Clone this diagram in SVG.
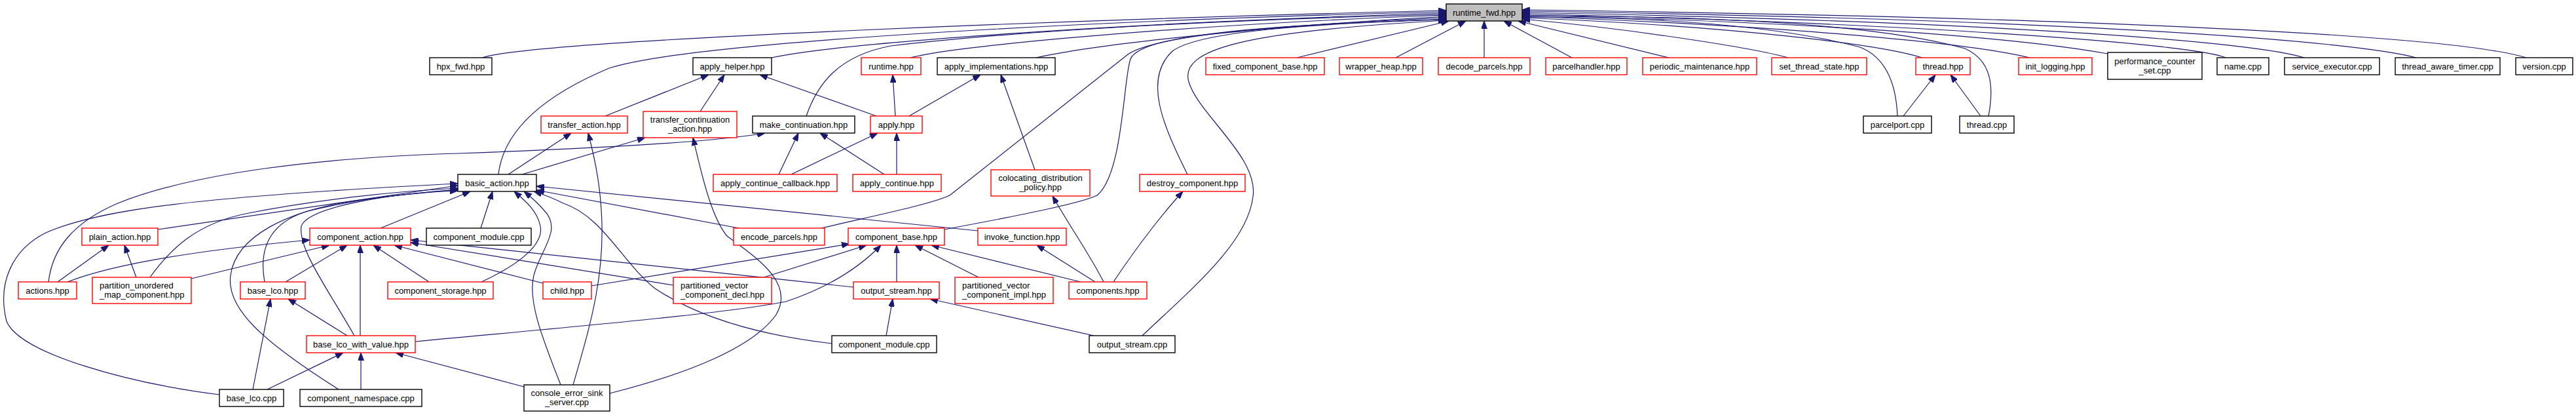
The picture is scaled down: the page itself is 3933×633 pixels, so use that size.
<svg xmlns="http://www.w3.org/2000/svg" width="3933" height="633" viewBox="0 0 3933 633">
<defs>
<marker id="ah" markerWidth="12" markerHeight="9" refX="12" refY="4.5" orient="auto" markerUnits="userSpaceOnUse" viewBox="0 0 12 9"><path d="M0,0 L12,4.5 L0,9 Z" fill="#191970" stroke="#191970" stroke-width="1"/></marker>
</defs>
<style>
.n rect{fill:#fff;stroke-width:1.4}
.r rect{stroke:#ff0000}
.k rect{stroke:#000}
.g rect{fill:#bfbfbf;stroke:#000}
text{font-family:"Liberation Sans",Arial,sans-serif;font-size:13px;fill:#000;text-anchor:middle}
text.l{text-anchor:start}
.e path{fill:none;stroke:#191970;stroke-width:1.2;marker-end:url(#ah)}
</style>
<rect x="0" y="0" width="3933" height="633" fill="#fff"/>
<g id="edges" class="e">
<path d="M736,88 C820,60 1700,28 2208,16"/>
<path d="M761,266 C768,205 820,150 930,104 C1060,62 1700,30 2208,18"/>
<path d="M1178,88 C1280,66 1700,35 2208,20"/>
<path d="M1231,177 C1248,128 1280,85 1360,70 C1600,42 1950,28 2208,22"/>
<path d="M1390,88 C1460,70 1800,38 2208,23"/>
<path d="M1582,88 C1700,62 2000,36 2208,25"/>
<path d="M1254,348 C1330,330 1420,312 1450,298 L1722,83 C1770,50 2000,36 2208,27"/>
<path d="M1442,350 C1560,328 1650,310 1675,298 C1715,265 1715,120 1726,90 C1740,55 1900,40 2208,29"/>
<path d="M1813,266 C1775,190 1745,120 1790,78 C1830,48 2000,36 2208,30"/>
<path d="M1744,512 C1820,440 1905,370 1913,300 C1922,240 1830,175 1815,125 C1800,75 1900,48 2208,31"/>
<path d="M1980,88 L2212,32"/>
<path d="M2131,88 L2238,32"/>
<path d="M2266,88 L2266,32"/>
<path d="M2400,88 L2296,32"/>
<path d="M2548,88 L2318,32"/>
<path d="M2730,88 C2680,74 2500,45 2324,29"/>
<path d="M2935,88 C2870,68 2650,40 2324,27"/>
<path d="M3099,88 C3000,64 2700,38 2324,25"/>
<path d="M3218,82 C3050,52 2700,32 2324,23"/>
<path d="M3398,88 C3360,70 3000,38 2324,21"/>
<path d="M3518,88 C3450,66 3100,34 2324,19"/>
<path d="M3689,88 C3600,64 3200,30 2324,17"/>
<path d="M3857,88 C3760,58 3300,28 2324,15"/>
<path d="M2897,177 C2895,130 2880,88 2840,72 C2700,35 2500,26 2324,26"/>
<path d="M3036,177 C3045,130 3040,92 3000,74 C2850,32 2550,24 2324,24"/>
<path d="M2906,177 L2955,114"/>
<path d="M3024,177 L2978,114"/>
<path d="M924,177 L1082,114"/>
<path d="M1069,170 L1106,114"/>
<path d="M1338,177 L1160,114"/>
<path d="M1367,177 L1363,114"/>
<path d="M1388,177 L1497,114"/>
<path d="M1580,259 L1528,114"/>
<path d="M776,266 L872,203"/>
<path d="M797,266 L985,210"/>
<path d="M875,587 C900,500 925,420 918,320 C915,270 905,230 898,203"/>
<path d="M931,600 C1050,570 1150,530 1185,480 C1215,430 1150,390 1110,360 C1085,330 1070,260 1058,210"/>
<path d="M74,430 C80,380 110,340 180,310 C300,262 500,240 700,234 C950,225 1100,215 1168,203"/>
<path d="M1189,266 L1219,203"/>
<path d="M1350,266 L1252,203"/>
<path d="M1208,266 L1340,203"/>
<path d="M1369,266 L1369,203"/>
<path d="M1685,430 C1665,390 1630,340 1607,299"/>
<path d="M1700,430 C1740,370 1780,320 1806,292"/>
<path d="M1672,430 L1583,374"/>
<path d="M1650,430 L1422,374"/>
<path d="M1494,423 L1397,374"/>
<path d="M1369,430 L1369,374"/>
<path d="M634,521 C800,505 1100,480 1200,460 C1260,440 1310,410 1345,374"/>
<path d="M1166,423 L1323,374"/>
<path d="M903,436 L1297,372"/>
<path d="M1493,352 L819,284"/>
<path d="M1128,348 L819,290"/>
<path d="M734,348 L752,292"/>
<path d="M735,430 C800,400 830,370 825,345 C820,320 800,305 785,292"/>
<path d="M856,587 C830,520 805,460 815,420 C825,380 860,350 830,320 C820,308 810,300 800,292"/>
<path d="M1270,524 C1150,510 1060,480 1000,440 C950,400 920,330 860,310 C840,300 828,296 815,292"/>
<path d="M241,350 L699,283"/>
<path d="M229,423 C260,380 300,340 380,325 C480,305 600,292 699,287"/>
<path d="M335,602 C200,585 30,540 10,490 C-5,430 20,380 70,355 C150,320 300,300 699,280"/>
<path d="M404,430 C395,380 410,340 470,322 C560,300 640,294 699,289"/>
<path d="M517,594 C400,520 345,470 352,420 C360,360 440,320 550,305 C620,296 660,292 699,291"/>
<path d="M541,512 C500,440 455,380 460,345 C470,315 600,295 699,290"/>
<path d="M581,348 L718,292"/>
<path d="M88,430 L166,374"/>
<path d="M208,423 L190,374"/>
<path d="M103,430 C180,400 320,380 473,366"/>
<path d="M292,425 L503,374"/>
<path d="M436,430 L530,374"/>
<path d="M550,512 L550,374"/>
<path d="M655,430 L570,374"/>
<path d="M829,432 L602,374"/>
<path d="M1028,435 L627,370"/>
<path d="M1303,438 L627,366"/>
<path d="M530,512 L440,456"/>
<path d="M386,594 L413,456"/>
<path d="M408,594 L524,538"/>
<path d="M551,594 L551,538"/>
<path d="M800,590 L604,538"/>
<path d="M1353,512 L1363,456"/>
<path d="M1670,512 L1420,456"/>
</g>
<g id="runtime_fwd_hpp" class="n g"><rect x="2208" y="6" width="116" height="26"/><text x="2266" y="23.5">runtime_fwd.hpp</text></g>
<g id="hpx_fwd_hpp" class="n k"><rect x="656" y="88" width="95" height="26"/><text x="703.5" y="105.5">hpx_fwd.hpp</text></g>
<g id="apply_helper_hpp" class="n k"><rect x="1058" y="88" width="120" height="26"/><text x="1118" y="105.5">apply_helper.hpp</text></g>
<g id="runtime_hpp" class="n r"><rect x="1315" y="88" width="91" height="26"/><text x="1360.5" y="105.5">runtime.hpp</text></g>
<g id="apply_implementations_hpp" class="n k"><rect x="1431" y="88" width="180" height="26"/><text x="1521" y="105.5">apply_implementations.hpp</text></g>
<g id="fixed_component_base_hpp" class="n r"><rect x="1841" y="88" width="181" height="26"/><text x="1931.5" y="105.5">fixed_component_base.hpp</text></g>
<g id="wrapper_heap_hpp" class="n r"><rect x="2045" y="88" width="127" height="26"/><text x="2108.5" y="105.5">wrapper_heap.hpp</text></g>
<g id="decode_parcels_hpp" class="n r"><rect x="2196" y="88" width="140" height="26"/><text x="2266" y="105.5">decode_parcels.hpp</text></g>
<g id="parcelhandler_hpp" class="n r"><rect x="2360" y="88" width="124" height="26"/><text x="2422" y="105.5">parcelhandler.hpp</text></g>
<g id="periodic_maintenance_hpp" class="n r"><rect x="2508" y="88" width="174" height="26"/><text x="2595" y="105.5">periodic_maintenance.hpp</text></g>
<g id="set_thread_state_hpp" class="n r"><rect x="2705" y="88" width="145" height="26"/><text x="2777.5" y="105.5">set_thread_state.hpp</text></g>
<g id="thread_hpp" class="n r"><rect x="2925" y="88" width="83" height="26"/><text x="2966.5" y="105.5">thread.hpp</text></g>
<g id="init_logging_hpp" class="n r"><rect x="3082" y="88" width="112" height="26"/><text x="3138" y="105.5">init_logging.hpp</text></g>
<g id="performance_counter_set_cpp" class="n k"><rect x="3218" y="80" width="144" height="41"/><text x="3290" y="97.5">performance_counter</text><text x="3290" y="111.5">_set.cpp</text></g>
<g id="name_cpp" class="n k"><rect x="3385" y="88" width="79" height="26"/><text x="3424.5" y="105.5">name.cpp</text></g>
<g id="service_executor_cpp" class="n k"><rect x="3488" y="88" width="145" height="26"/><text x="3560.5" y="105.5">service_executor.cpp</text></g>
<g id="thread_aware_timer_cpp" class="n k"><rect x="3657" y="88" width="160" height="26"/><text x="3737" y="105.5">thread_aware_timer.cpp</text></g>
<g id="version_cpp" class="n k"><rect x="3841" y="88" width="87" height="26"/><text x="3884.5" y="105.5">version.cpp</text></g>
<g id="transfer_action_hpp" class="n r"><rect x="826" y="177" width="132" height="26"/><text x="892" y="194.5">transfer_action.hpp</text></g>
<g id="transfer_continuation_action_hpp" class="n r"><rect x="982" y="170" width="143" height="40"/><text x="1053.5" y="187">transfer_continuation</text><text x="1053.5" y="201">_action.hpp</text></g>
<g id="make_continuation_hpp" class="n k"><rect x="1149" y="177" width="156" height="26"/><text x="1227" y="194.5">make_continuation.hpp</text></g>
<g id="apply_hpp" class="n r"><rect x="1329" y="177" width="79" height="26"/><text x="1368.5" y="194.5">apply.hpp</text></g>
<g id="parcelport_cpp" class="n k"><rect x="2845" y="177" width="104" height="26"/><text x="2897" y="194.5">parcelport.cpp</text></g>
<g id="thread_cpp" class="n k"><rect x="2992" y="177" width="83" height="26"/><text x="3033.5" y="194.5">thread.cpp</text></g>
<g id="basic_action_hpp" class="n k"><rect x="699" y="266" width="120" height="26"/><text x="759" y="283.5">basic_action.hpp</text></g>
<g id="apply_continue_callback_hpp" class="n r"><rect x="1089" y="266" width="189" height="26"/><text x="1183.5" y="283.5">apply_continue_callback.hpp</text></g>
<g id="apply_continue_hpp" class="n r"><rect x="1302" y="266" width="135" height="26"/><text x="1369.5" y="283.5">apply_continue.hpp</text></g>
<g id="colocating_distribution_policy_hpp" class="n r"><rect x="1513" y="259" width="151" height="40"/><text x="1588.5" y="276">colocating_distribution</text><text x="1588.5" y="290">_policy.hpp</text></g>
<g id="destroy_component_hpp" class="n r"><rect x="1740" y="266" width="161" height="26"/><text x="1820.5" y="283.5">destroy_component.hpp</text></g>
<g id="plain_action_hpp" class="n r"><rect x="125" y="348" width="116" height="26"/><text x="183" y="365.5">plain_action.hpp</text></g>
<g id="component_action_hpp" class="n r"><rect x="473" y="348" width="154" height="26"/><text x="550" y="365.5">component_action.hpp</text></g>
<g id="component_module_cpp_1" class="n k"><rect x="651" y="348" width="160" height="26"/><text x="731" y="365.5">component_module.cpp</text></g>
<g id="encode_parcels_hpp" class="n r"><rect x="1120" y="348" width="139" height="26"/><text x="1189.5" y="365.5">encode_parcels.hpp</text></g>
<g id="component_base_hpp" class="n r"><rect x="1295" y="348" width="147" height="26"/><text x="1368.5" y="365.5">component_base.hpp</text></g>
<g id="invoke_function_hpp" class="n r"><rect x="1493" y="348" width="135" height="26"/><text x="1560.5" y="365.5">invoke_function.hpp</text></g>
<g id="actions_hpp" class="n r"><rect x="28" y="430" width="89" height="26"/><text x="72.5" y="447.5">actions.hpp</text></g>
<g id="partition_unordered_map_component_hpp" class="n r"><rect x="141" y="423" width="151" height="40"/><text class="l" x="152" y="440">partition_unordered</text><text class="l" x="152" y="454">_map_component.hpp</text></g>
<g id="base_lco_hpp" class="n r"><rect x="367" y="430" width="99" height="26"/><text x="416.5" y="447.5">base_lco.hpp</text></g>
<g id="component_storage_hpp" class="n r"><rect x="592" y="430" width="161" height="26"/><text x="672.5" y="447.5">component_storage.hpp</text></g>
<g id="child_hpp" class="n r"><rect x="829" y="430" width="74" height="26"/><text x="866" y="447.5">child.hpp</text></g>
<g id="partitioned_vector_component_decl_hpp" class="n r"><rect x="1028" y="423" width="150" height="40"/><text class="l" x="1039" y="440">partitioned_vector</text><text class="l" x="1039" y="454">_component_decl.hpp</text></g>
<g id="output_stream_hpp" class="n r"><rect x="1303" y="430" width="131" height="26"/><text x="1368.5" y="447.5">output_stream.hpp</text></g>
<g id="partitioned_vector_component_impl_hpp" class="n r"><rect x="1458" y="423" width="150" height="40"/><text class="l" x="1469" y="440">partitioned_vector</text><text class="l" x="1469" y="454">_component_impl.hpp</text></g>
<g id="components_hpp" class="n r"><rect x="1632" y="430" width="119" height="26"/><text x="1691.5" y="447.5">components.hpp</text></g>
<g id="base_lco_with_value_hpp" class="n r"><rect x="468" y="512" width="166" height="26"/><text x="551" y="529.5">base_lco_with_value.hpp</text></g>
<g id="component_module_cpp_2" class="n k"><rect x="1270" y="512" width="160" height="26"/><text x="1350" y="529.5">component_module.cpp</text></g>
<g id="output_stream_cpp" class="n k"><rect x="1663" y="512" width="131" height="26"/><text x="1728.5" y="529.5">output_stream.cpp</text></g>
<g id="base_lco_cpp" class="n k"><rect x="335" y="594" width="98" height="26"/><text x="384" y="611.5">base_lco.cpp</text></g>
<g id="component_namespace_cpp" class="n k"><rect x="458" y="594" width="186" height="26"/><text x="551" y="611.5">component_namespace.cpp</text></g>
<g id="console_error_sink_server_cpp" class="n k"><rect x="800" y="587" width="131" height="40"/><text x="865.5" y="604">console_error_sink</text><text x="865.5" y="618">_server.cpp</text></g>
</svg>
